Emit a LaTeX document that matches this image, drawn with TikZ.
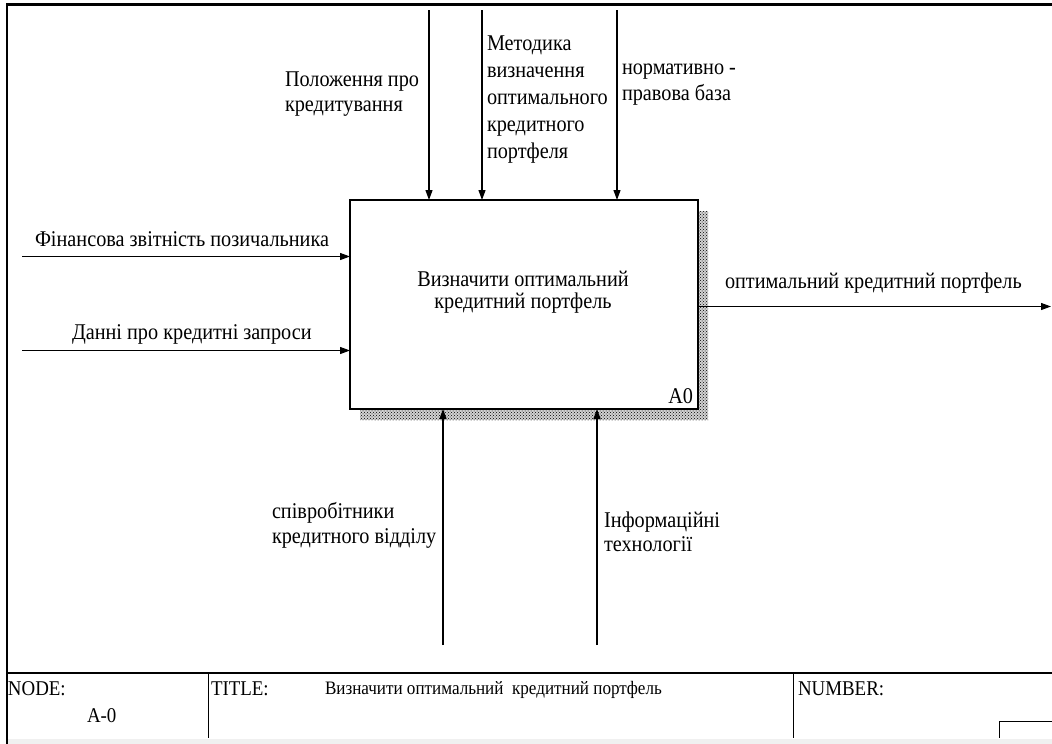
\documentclass[tikz,border=0pt]{standalone}
\usepackage{fontspec}
\setmainfont{Liberation Serif}[FakeStretch=0.9]
\usetikzlibrary{arrows.meta,patterns}

\begin{document}
\begin{tikzpicture}[x=1pt,y=-1pt,
  every node/.style={inner sep=0pt, outer sep=0pt},
  txt/.style={font=\fontsize{22.5}{25}\selectfont},
  lbl/.style={txt, anchor=base west, align=left},
  small/.style={font=\fontsize{21}{25}\selectfont},
  arr/.style={line width=1.2pt, -{Triangle[length=10pt,width=7pt]}},
  frameline/.style={line width=2.6pt},
  rule/.style={line width=1.3pt},
  sep/.style={line width=1pt},
  shadow/.style={fill=gray!35, postaction={pattern=crosshatch dots, pattern color=black}}]
\useasboundingbox (0,0) rectangle (1052,744);

% drop shadow of the activity box
\path[shadow] (698,211) rectangle (708,420);
\path[shadow] (360,409) rectangle (698,420);

% activity box (multi-line nodes sit on the baseline of their last line)
\node[draw, fill=white, line width=1.3pt, minimum width=348pt, minimum height=209pt] (fn) at (524,304.5) {};
\node[txt, anchor=base, align=center, font=\fontsize{22.5}{22.5}\selectfont] (fntext) at (523,308.5)
  {Визначити оптимальний\\кредитний портфель};
\node[txt, anchor=base east] (fnid) at (693,403) {A0};

% controls (top)
\coordinate (c1) at (429,10);
\coordinate (c2) at (482,10);
\coordinate (c3) at (617,10);
\draw[arr] (c1) -- (c1 |- fn.north);
\draw[arr] (c2) -- (c2 |- fn.north);
\draw[arr] (c3) -- (c3 |- fn.north);
\node[lbl] (lc1) at (285,111) {Положення про\\кредитування};
\node[lbl, font=\fontsize{22.5}{27}\selectfont] (lc2) at (487,158)
  {Методика\\визначення\\оптимального\\кредитного\\портфеля};
\node[lbl, font=\fontsize{22.5}{26}\selectfont] (lc3) at (622,100) {нормативно -\\правова база};

% inputs (left)
\coordinate (i1) at (22,256.5);
\coordinate (i2) at (22,350.5);
\draw[arr] (i1) -- (i1 -| fn.west);
\draw[arr] (i2) -- (i2 -| fn.west);
\node[lbl] (li1) at (35,246) {Фінансова звітність позичальника};
\node[lbl] (li2) at (72,339) {Данні про кредитні запроси};

% output (right)
\coordinate (o1) at (1051,306.5);
\draw[arr] (fn.east |- o1) -- (o1);
\node[lbl] (lo1) at (725,288) {оптимальний кредитний портфель};

% mechanisms (bottom)
\coordinate (m1) at (443,645);
\coordinate (m2) at (597,645);
\draw[arr] (m1) -- (m1 |- fn.south);
\draw[arr] (m2) -- (m2 |- fn.south);
\node[lbl] (lm1) at (272,543) {співробітники\\кредитного відділу};
\node[lbl, font=\fontsize{22.5}{24}\selectfont] (lm2) at (604,551) {Інформаційні\\технології};

% sheet frame
\draw[frameline] (1052,4.7) -- (7,4.7) -- (7,744);

% title block
\draw[rule] (7,673) -- (1052,673);
\draw[sep] (208,673) -- (208,738);
\draw[sep] (793,673) -- (793,738);
\draw[sep] (1052,721) -- (999,721) -- (999,738);
\fill[gray!12] (8.4,738.5) rectangle (1052,744);
\node[lbl, small] (node) at (8,695) {NODE:};
\node[lbl, small] (nodeid) at (87,722) {A-0};
\node[lbl, small] (title) at (211,695) {TITLE:};
\node[lbl, font=\fontsize{19}{25}\selectfont] (titletext) at (325,694) {Визначити оптимальний\ \ кредитний портфель};
\node[lbl, small] (number) at (798,695) {NUMBER:};
\end{tikzpicture}
\end{document}
